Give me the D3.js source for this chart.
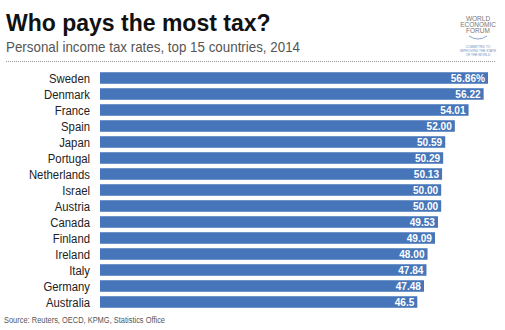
<!DOCTYPE html>
<html>
<head>
<meta charset="utf-8">
<script src="https://cdn.jsdelivr.net/npm/d3@7"></script>
<style>
  body { margin: 0; background: #fff; }
  svg { display: block; font-family: "Liberation Sans", Arial, sans-serif; }
</style>
</head>
<body>
<svg width="505" height="330"></svg>
<script>
const countries = ["Sweden", "Denmark", "France", "Spain", "Japan", "Portugal", "Netherlands",
  "Israel", "Austria", "Canada", "Finland", "Ireland", "Italy", "Germany", "Australia"];
const rates = [56.86, 56.22, 54.01, 52.00, 50.59, 50.29, 50.13, 50.00, 50.00, 49.53, 49.09, 48.00, 47.84, 47.48, 46.5];
const rateLabels = ["56.86%", "56.22", "54.01", "52.00", "50.59", "50.29", "50.13", "50.00", "50.00",
  "49.53", "49.09", "48.00", "47.84", "47.48", "46.5"];

const svg = d3.select("svg");
const data = countries.map((c, i) => ({ country: c, rate: rates[i], label: rateLabels[i] }));

const x = d3.scaleLinear().domain([0, 56.86]).range([100, 488]);
const y = d3.scaleBand().domain(countries).range([70, 310]).paddingInner(0.28).paddingOuter(0.14);

// title block
svg.append("text")
  .attr("x", 6).attr("y", 31)
  .text("Who pays the most tax?")
  .style("font-size", "23px")
  .style("font-weight", "bold")
  .style("fill", "#111");

svg.append("text")
  .attr("x", 6).attr("y", 52)
  .attr("textLength", 294)
  .attr("lengthAdjust", "spacingAndGlyphs")
  .text("Personal income tax rates, top 15 countries, 2014")
  .style("font-size", "14.5px")
  .style("fill", "#555");

svg.append("line")
  .attr("x1", 6).attr("x2", 496)
  .attr("y1", 61.5).attr("y2", 61.5)
  .attr("stroke", "#999")
  .attr("stroke-dasharray", "1,1");

// logo
const logo = svg.append("g").attr("transform", "translate(478,0)");
["WORLD", "ECONOMIC", "FORUM"].forEach((t, i) => {
  logo.append("text")
    .attr("x", 0).attr("y", 21 + i * 6)
    .attr("text-anchor", "middle")
    .text(t)
    .style("font-size", "6.5px")
    .style("fill", "#777");
});
logo.append("path")
  .attr("d", "M -9 36 Q 0 42 9 36")
  .attr("fill", "none")
  .attr("stroke", "#6a8fc0")
  .attr("stroke-width", 0.8);
["COMMITTED TO", "IMPROVING THE STATE", "OF THE WORLD"].forEach((t, i) => {
  logo.append("text")
    .attr("x", 0).attr("y", 48 + i * 4)
    .attr("text-anchor", "middle")
    .text(t)
    .style("font-size", "3.2px")
    .style("fill", "#6a8fc0");
});

// bars
svg.append("g")
  .selectAll("rect")
  .data(data)
  .enter()
  .append("rect")
  .attr("x", x(0))
  .attr("y", d => y(d.country))
  .attr("width", d => x(d.rate) - x(0))
  .attr("height", y.bandwidth())
  .attr("fill", "#4676b9");

// country labels (squeezed to look condensed)
svg.append("g")
  .selectAll("text")
  .data(data)
  .enter()
  .append("text")
  .attr("transform", d => `translate(90,${y(d.country) + y.bandwidth() / 2}) scale(0.84,1)`)
  .attr("dy", "0.36em")
  .attr("text-anchor", "end")
  .text(d => d.country)
  .style("font-size", "13.5px")
  .style("fill", "#222");

// value labels
svg.append("g")
  .selectAll("text")
  .data(data)
  .enter()
  .append("text")
  .attr("transform", d => `translate(${x(d.rate) - 3},${y(d.country) + y.bandwidth() / 2}) scale(0.92,1)`)
  .attr("dy", "0.36em")
  .attr("text-anchor", "end")
  .text(d => d.label)
  .style("font-size", "11px")
  .style("font-weight", "bold")
  .style("fill", "#fff");

svg.append("text")
  .attr("x", 4).attr("y", 323)
  .attr("textLength", 161)
  .attr("lengthAdjust", "spacingAndGlyphs")
  .text("Source: Reuters, OECD, KPMG, Statistics Office")
  .style("font-size", "8.5px")
  .style("fill", "#555");
</script>
</body>
</html>
